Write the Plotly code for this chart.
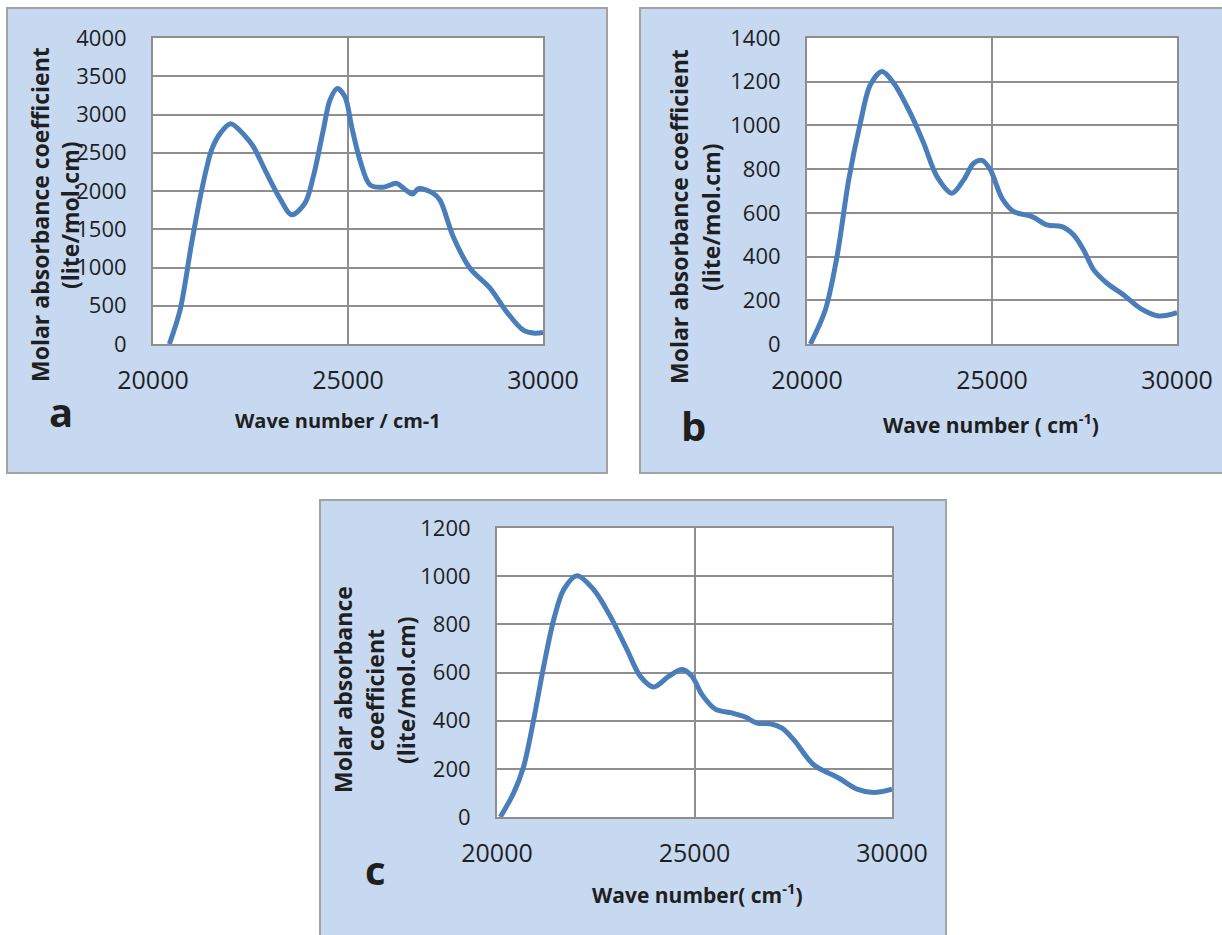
import plotly.graph_objects as go

W, H = 1222, 935

# ---- Spectra (wavenumber in cm-1, molar absorbance coefficient) ----
a_wavenumber = [20419, 20692, 20991, 21248, 21504, 21718, 21991, 22359, 22573, 22915,
                23256, 23556, 23897, 24111, 24368, 24538, 24726, 24923, 25094, 25308,
                25564, 25906, 26248, 26462, 26658, 26803, 27188, 27359, 27701, 28128,
                28641, 29068, 29496, 29795, 30000]
a_absorbance = [0, 440, 1320, 2010, 2540, 2750, 2880, 2720, 2580, 2230,
                1900, 1690, 1840, 2190, 2800, 3190, 3340, 3230, 2840, 2400,
                2080, 2050, 2100, 2020, 1960, 2030, 1970, 1880, 1400, 990,
                730, 420, 180, 140, 150]

b_wavenumber = [20090, 20495, 20811, 21127, 21441, 21712, 22027, 22342, 22793, 23153,
                23514, 23919, 24234, 24505, 24730, 24955, 25270, 25586, 26081, 26486,
                26892, 27207, 27477, 27748, 28108, 28559, 29009, 29505, 30000]
b_absorbance = [0, 156, 400, 751, 1011, 1186, 1247, 1194, 1056, 919,
                766, 690, 751, 827, 840, 797, 667, 606, 583, 545,
                537, 499, 430, 339, 278, 224, 163, 128, 143]

c_wavenumber = [20084, 20422, 20675, 20928, 21181, 21435, 21688, 22025, 22447, 22869,
                23291, 23629, 23966, 24346, 24684, 24937, 25190, 25527, 25949, 26287,
                26582, 26919, 27215, 27511, 28017, 28650, 29114, 29536, 30000]
c_absorbance = [0, 100, 210, 404, 625, 819, 944, 1002, 944, 833,
                695, 584, 540, 584, 612, 584, 508, 448, 432, 415,
                390, 387, 369, 321, 217, 162, 116, 102, 116]

x_ticks = [20000, 25000, 30000]
a_yticks = list(range(0, 4001, 500))
b_yticks = list(range(0, 1401, 200))
c_yticks = list(range(0, 1201, 200))

# ---- Styling ----
LINE_BLUE = "#4a7ebb"
PANEL_FILL = "#c6d9f1"
FRAME = "#a3a3a3"
GRID = "#8e8e8e"
TXT = "#1f1f1f"
FONT = "Open Sans"


def px_x(px):
    return px / W


def px_y(py):
    return 1 - py / H


# plot areas in pixels: (left, right, top, bottom)
areas = {
    "a": (153, 543, 38, 344),
    "b": (807, 1177, 38, 344),
    "c": (497, 892, 528, 817),
}
# panel frames in pixels
frames = {
    "a": (7, 607, 8, 473),
    "b": (640, 1240, 8, 473),
    "c": (320, 946, 500, 950),
}

fig = go.Figure()

series = [
    ("a", a_wavenumber, a_absorbance, a_yticks, "x", "y"),
    ("b", b_wavenumber, b_absorbance, b_yticks, "x2", "y2"),
    ("c", c_wavenumber, c_absorbance, c_yticks, "x3", "y3"),
]

shapes = []
for key, xs, ys, yt, xa, ya in series:
    fx0, fx1, fy0, fy1 = frames[key]
    shapes.append(dict(type="rect", xref="paper", yref="paper", layer="below",
                       x0=px_x(fx0), x1=px_x(fx1), y0=px_y(fy1), y1=px_y(fy0),
                       fillcolor=PANEL_FILL, line=dict(color=FRAME, width=2)))
    shapes.append(dict(type="rect", xref=f"{xa} domain", yref=f"{ya} domain", layer="below",
                       x0=0, x1=1, y0=0, y1=1, fillcolor="white", line=dict(width=0)))

    fig.add_trace(go.Scatter(x=xs, y=ys, mode="lines", xaxis=xa, yaxis=ya,
                             line=dict(color=LINE_BLUE, width=5, shape="spline", smoothing=0.9),
                             showlegend=False, hoverinfo="x+y"))

    l, r, t, b = areas[key]
    xname = "xaxis" if xa == "x" else "xaxis" + xa[1:]
    yname = "yaxis" if ya == "y" else "yaxis" + ya[1:]
    fig.layout[xname] = dict(
        domain=[px_x(l), px_x(r)], anchor=ya, range=[20000, 30000], automargin=False,
        tickvals=x_ticks, ticktext=[str(v) for v in x_ticks],
        showgrid=True, gridcolor=GRID, gridwidth=2, zeroline=False,
        showline=True, mirror=True, linecolor=GRID, linewidth=2,
        ticks="", ticklabelstandoff=13,
        tickfont=dict(family=FONT, size=25, color=TXT),
    )
    fig.layout[yname] = dict(
        domain=[px_y(b), px_y(t)], anchor=xa, range=[yt[0], yt[-1]], automargin=False,
        tickvals=yt, ticktext=[str(v) for v in yt],
        showgrid=True, gridcolor=GRID, gridwidth=2, zeroline=False,
        showline=True, mirror=True, linecolor=GRID, linewidth=2,
        ticks="", ticklabelstandoff=20,
        tickfont=dict(family=FONT, size=22, color=TXT),
    )

annotations = []


def text_at(px, py, text, size, angle=0):
    annotations.append(dict(xref="paper", yref="paper", x=px_x(px), y=px_y(py),
                            xanchor="center", yanchor="middle", showarrow=False,
                            text=text, textangle=angle,
                            font=dict(family=FONT, size=size, color=TXT)))


# y-axis titles
text_at(40, 215, "<b>Molar absorbance coefficient</b>", 23, -90)
text_at(70, 215, "<b>(lite/mol.cm)</b>", 23, -90)
text_at(679, 217, "<b>Molar absorbance coefficient</b>", 23, -90)
text_at(711, 217, "<b>(lite/mol.cm)</b>", 23, -90)
text_at(343, 690, "<b>Molar absorbance</b>", 23, -90)
text_at(375, 690, "<b>coefficient</b>", 23, -90)
text_at(406, 690, "<b>(lite/mol.cm)</b>", 23, -90)

# x-axis titles
text_at(338, 421, "<b>Wave number / cm-1</b>", 20)
text_at(991, 423, "<b>Wave number ( cm<sup>-1</sup>)</b>", 21)
text_at(697, 893, "<b>Wave number( cm<sup>-1</sup>)</b>", 21)

# panel letters
text_at(61, 411, "<b>a</b>", 40)
text_at(693, 425, "<b>b</b>", 40)
text_at(375, 869, "<b>c</b>", 40)

fig.update_layout(
    width=W, height=H, margin=dict(l=0, r=0, t=0, b=0),
    paper_bgcolor="white", plot_bgcolor="rgba(0,0,0,0)",
    shapes=shapes, annotations=annotations, showlegend=False,
)

fig.write_html("out.html")
